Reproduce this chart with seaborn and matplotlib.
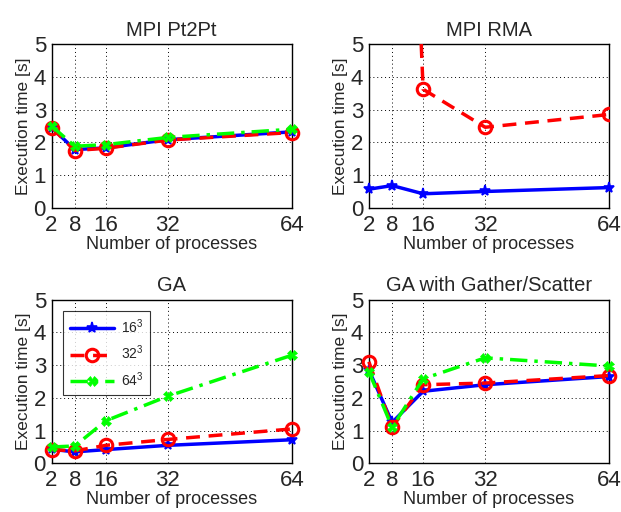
import numpy as np
import pandas as pd
import matplotlib
matplotlib.use("Agg")
import matplotlib.pyplot as plt
import seaborn as sns

sns.set_style("white")
plt.rcParams['font.family'] = ['Liberation Sans', 'DejaVu Sans']
plt.rcParams['mathtext.fontset'] = 'custom'
plt.rcParams['mathtext.rm'] = 'Liberation Sans'

procs = [2, 8, 16, 32, 64]
sizes = ['16$^3$', '32$^3$', '64$^3$']
titles = ['MPI Pt2Pt', 'MPI RMA', 'GA', 'GA with Gather/Scatter']

pt2pt_16 = [2.45, 1.78, 1.83, 2.08, 2.32]
pt2pt_32 = [2.45, 1.75, 1.82, 2.07, 2.30]
pt2pt_64 = [2.50, 1.88, 1.93, 2.15, 2.40]

rma_16 = [0.57, 0.68, 0.43, 0.50, 0.62]
rma_32 = [30.0, 25.7, 3.62, 2.46, 2.85]
rma_64 = [np.nan, np.nan, np.nan, np.nan, np.nan]

ga_16 = [0.43, 0.35, 0.42, 0.55, 0.72]
ga_32 = [0.42, 0.38, 0.55, 0.73, 1.05]
ga_64 = [0.50, 0.53, 1.30, 2.05, 3.30]

gs_16 = [2.85, 1.25, 2.20, 2.40, 2.65]
gs_32 = [3.10, 1.10, 2.40, 2.45, 2.68]
gs_64 = [2.80, 1.10, 2.58, 3.22, 2.97]

panels = [
    [pt2pt_16, pt2pt_32, pt2pt_64],
    [rma_16, rma_32, rma_64],
    [ga_16, ga_32, ga_64],
    [gs_16, gs_32, gs_64],
]

styles = [
    dict(color='#0000ff', marker='*', linestyle='-', markersize=8,
         markeredgewidth=1.2, markerfacecolor='#0000ff', markeredgecolor='#0000ff'),
    dict(color='#ff0000', marker='o', linestyle=(0, (4, 2.5)), markersize=9,
         markeredgewidth=2.2, markerfacecolor='none', markeredgecolor='#ff0000'),
    dict(color='#00ff00', marker='X', linestyle=(0, (5, 2, 1, 2)), markersize=7,
         markeredgewidth=0.5, markerfacecolor='#00ff00', markeredgecolor='#00ff00'),
]

fig = plt.figure(figsize=(6.21, 5.12), dpi=100)
lefts = [0.083, 0.594]
bottoms = [0.594, 0.095]
w = 0.387
h = 0.320

for i, (title, series) in enumerate(zip(titles, panels)):
    r, c = divmod(i, 2)
    ax = fig.add_axes([lefts[c], bottoms[r], w, h])
    for lab, vals, st in zip(sizes, series, styles):
        df = pd.DataFrame({'procs': procs, 'time': vals}).dropna()
        if len(df) == 0:
            continue
        n_before = len(ax.lines)
        sns.lineplot(data=df, x='procs', y='time', ax=ax, label=lab,
                     linewidth=2.5, sort=False, legend=False, **st)
        in_range = (df['time'] <= 5).all()
        for ln in ax.lines[n_before:]:
            ln.set_clip_on(not in_range)
            ln.set_zorder(3)
    ax.set_xlim(2, 64)
    ax.set_ylim(0, 5)
    ax.set_xticks(procs)
    ax.set_yticks([0, 1, 2, 3, 4, 5])
    ax.tick_params(axis='both', labelsize=16, direction='in', length=3, width=0.8)
    ax.tick_params(axis='x', pad=5)
    ax.tick_params(axis='y', pad=4)
    ax.grid(True, color='black', linestyle=(0, (1, 3)), linewidth=0.7)
    for sp in ax.spines.values():
        sp.set_color('black')
        sp.set_linewidth(1.0)
    ax.set_title(title, fontsize=14.5, pad=6)
    ax.set_xlabel('Number of processes', fontsize=13, labelpad=0)
    ax.set_ylabel('Execution time [s]', fontsize=12.5, labelpad=2)
    if i == 2:
        handles = [plt.Line2D([], [], linewidth=2.5, **st) for st in styles]
        leg = ax.legend(handles, sizes, loc='upper left', fontsize=10,
                        frameon=True, fancybox=False, edgecolor='black',
                        handlelength=3.2, handletextpad=0.5, borderpad=0.45,
                        labelspacing=0.55, bbox_to_anchor=(0.02, 0.97))
        leg.get_frame().set_linewidth(0.8)
        leg.set_zorder(5)

fig.savefig('out.png', dpi=100)
